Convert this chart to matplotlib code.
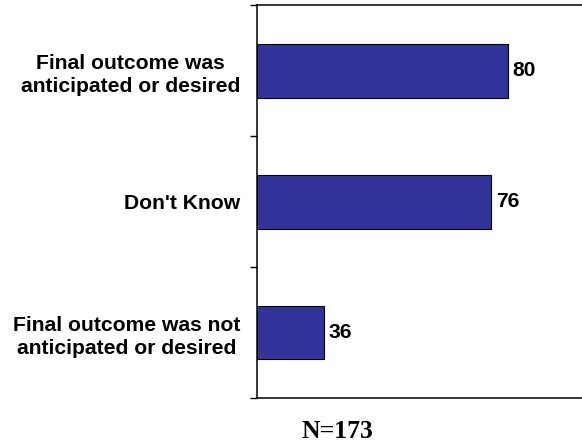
import matplotlib
matplotlib.use("Agg")
import matplotlib.pyplot as plt
from matplotlib.ticker import FixedLocator

categories = ["Final outcome was\nanticipated or desired",
              "Don't Know",
              "Final outcome was not\nanticipated or desired"]
values = [80, 76, 36]
sample_note = "N=173"

bar_color = "#333399"
sans = ["Liberation Sans", "DejaVu Sans"]

fig = plt.figure(figsize=(5.82, 4.44), dpi=100)
ax = fig.add_axes([257 / 582, 1 - 398 / 444, 1.0166 - 257 / 582, (398 - 5.5) / 444])

ypos = list(range(len(categories)))
bars = ax.barh(ypos, values, height=0.41, color=bar_color,
               edgecolor="black", linewidth=0.8, zorder=2)

ax.set_xlim(20, 100)
ax.set_ylim(len(categories) - 0.5, -0.5)

ax.set_yticks(ypos)
labels = ax.set_yticklabels(categories, fontsize=15.2, fontweight="bold",
                            family=sans, ha="right", linespacing=1.3)
for lab in labels:
    lab.set_multialignment("center")
ax.tick_params(axis="y", which="major", length=0, pad=12.2)
ax.yaxis.set_minor_locator(FixedLocator([i - 0.5 for i in range(len(categories) + 1)]))
ax.tick_params(axis="y", which="minor", length=5.2, width=1, direction="out", color="black")

ax.set_xticks([])
for side in ("top", "bottom", "left"):
    ax.spines[side].set_linewidth(1.1)
    ax.spines[side].set_color("black")
ax.spines["right"].set_visible(False)

for rect, v in zip(bars, values):
    ax.annotate(f"{v}", xy=(v, rect.get_y() + rect.get_height() / 2),
                xytext=(3.5, 0), textcoords="offset points",
                va="center", ha="left", fontsize=15.2, fontweight="bold",
                family=sans)

fig.text(337 / 582, 1 - 438 / 444, sample_note, ha="center", va="baseline",
         fontsize=18.5, fontweight="bold", family=["Liberation Serif", "DejaVu Serif"])

fig.savefig("out.png", dpi=100)
